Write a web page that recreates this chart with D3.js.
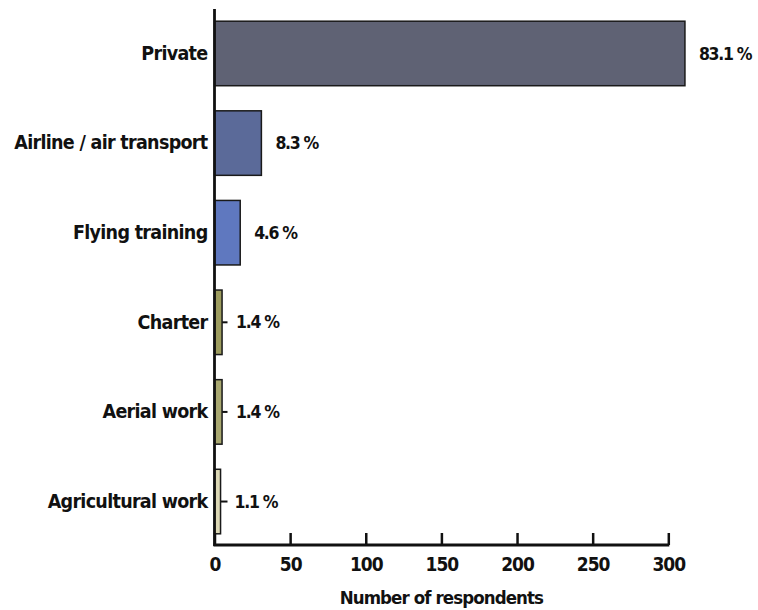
<!DOCTYPE html>
<html>
<head>
<meta charset="utf-8">
<script src="https://cdn.jsdelivr.net/npm/d3@7"></script>
<style>
body { margin: 0; background: #fff; }
text { font-family: "DejaVu Sans Condensed", "DejaVu Sans", sans-serif; font-weight: bold; fill: #111; }
</style>
</head>
<body>
<div id="chart"></div>
<script>
var width = 758,
height = 610;

// data
var categories = ["Private", "Airline / air transport", "Flying training", "Charter", "Aerial work", "Agricultural work"];
var respondents = [311, 31, 17, 5, 5, 4];
var percentLabels = ["83.1 %", "8.3 %", "4.6 %", "1.4 %", "1.4 %", "1.1 %"];
var barColors = ["#5f6274", "#5b6a99", "#5f78bf", "#9d9c5e", "#a9a870", "#dcd8b5"];
var xTicks = [0, 50, 100, 150, 200, 250, 300];

var svg = d3.select('#chart').append('svg')
.attr('width', width)
.attr('height', height);

let scaleX = d3.scaleLinear().domain([0, 300]).range([214.5, 668.3]);
let scaleY = d3.scaleBand().domain(categories).range([10, 545])
    .paddingInner(0.28).paddingOuter(0.125);

// y axis: ticks point right, drawn under the bars
var axisY = d3.axisLeft(scaleY).tickSizeInner(-13).tickSizeOuter(0).tickPadding(8);
var gy = svg.append('g')
    .attr("transform", "translate(" + scaleX(0) + ",0)")
    .call(axisY);
gy.select(".domain").remove();
gy.selectAll(".tick line").attr("stroke", "#111").attr("stroke-width", 2);
gy.selectAll(".tick text")
    .attr("x", -7)
    .style("font-size", "19.5px")
    .style("letter-spacing", "-0.7px");

var g = svg.append('g');
g.selectAll(".bar").data(respondents).enter().append("rect")
    .attr("class", "bar")
    .attr("x", scaleX(0))
    .attr("y", (d, i) => scaleY(categories[i]))
    .attr("width", d => scaleX(d) - scaleX(0))
    .attr("height", scaleY.bandwidth())
    .attr("fill", (d, i) => barColors[i])
    .attr("stroke", "#1a1a1a")
    .attr("stroke-width", 1.5);

g.selectAll(".pct").data(respondents).enter().append("text")
    .attr("class", "pct")
    .attr("x", d => scaleX(d) + 14)
    .attr("y", (d, i) => scaleY(categories[i]) + scaleY.bandwidth() / 2)
    .attr("dy", "0.35em")
    .style("font-size", "17.5px")
    .style("letter-spacing", "-1.3px")
    .text((d, i) => percentLabels[i]);

// x axis: ticks point up
var axisX = d3.axisBottom(scaleX).tickValues(xTicks).tickSizeInner(-12).tickSizeOuter(0).tickPadding(10);
var gx = svg.append('g')
    .attr("transform", "translate(0," + scaleY.range()[1] + ")")
    .call(axisX);
gx.select(".domain").remove();
gx.selectAll(".tick line").attr("stroke", "#111").attr("stroke-width", 2.5);
gx.selectAll(".tick text")
    .attr("y", 13)
    .attr("dy", "0.71em")
    .style("font-size", "19px")
    .style("letter-spacing", "-1px");

// axis lines
svg.append("line")
    .attr("x1", scaleX(0)).attr("x2", scaleX(0))
    .attr("y1", 9).attr("y2", scaleY.range()[1] + 1)
    .attr("stroke", "#111").attr("stroke-width", 2.8);
svg.append("line")
    .attr("x1", scaleX(0) - 1).attr("x2", scaleX(300) + 1)
    .attr("y1", scaleY.range()[1]).attr("y2", scaleY.range()[1])
    .attr("stroke", "#111").attr("stroke-width", 2.8);

svg.append("text")
    .attr("x", (scaleX(0) + scaleX(300)) / 2)
    .attr("y", 604)
    .attr("text-anchor", "middle")
    .style("font-size", "18.5px")
    .style("letter-spacing", "-0.9px")
    .text("Number of respondents");
</script>
</body>
</html>
